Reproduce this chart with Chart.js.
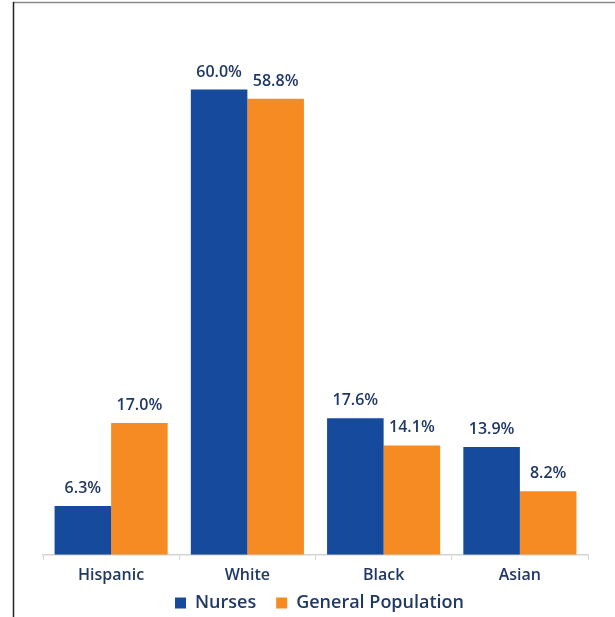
<!DOCTYPE html>
<html>
<head>
<meta charset="utf-8">
<script src="https://cdn.jsdelivr.net/npm/chart.js@4/dist/chart.umd.min.js"></script>
<style>
html,body{margin:0;padding:0;background:#fff;overflow:hidden;}
#wrap{position:absolute;left:0;top:0;width:615px;height:617px;overflow:hidden;}
</style>
</head>
<body>
<div id="wrap"><canvas id="c" width="615" height="639"></canvas></div>
<script>
const categories = ["Hispanic", "White", "Black", "Asian"];
const nurses = [6.3, 60.0, 17.6, 13.9];
const generalPopulation = [17.0, 58.8, 14.1, 8.2];
const seriesNames = ["Nurses", "General Population"];

const textColor = "#203864";
const blue = "#164A9C";
const orange = "#F68B23";

const framePlugin = {
  id: "frame",
  beforeDraw(chart) {
    const ctx = chart.ctx;
    ctx.save();
    ctx.fillStyle = "#fff";
    ctx.fillRect(0, 0, chart.width, chart.height);
    ctx.strokeStyle = "#8a8a8a";
    ctx.lineWidth = 1.5;
    ctx.beginPath();
    ctx.moveTo(13, 2.5);
    ctx.lineTo(chart.width, 2.5);
    ctx.stroke();
    ctx.strokeStyle = "#222";
    ctx.beginPath();
    ctx.moveTo(13.5, 2);
    ctx.lineTo(13.5, chart.height);
    ctx.stroke();
    ctx.restore();
  }
};

const legendShift = {
  id: "legendShift",
  afterLayout(chart) {
    if (chart.legend) {
      chart.legend.top -= 17;
      chart.legend.bottom -= 17;
      chart.legend.left += 4;
      chart.legend.right += 4;
    }
  }
};

const valueLabels = {
  id: "valueLabels",
  afterDatasetsDraw(chart) {
    const ctx = chart.ctx;
    ctx.save();
    ctx.font = "600 16px 'Open Sans'";
    ctx.fillStyle = textColor;
    ctx.textAlign = "center";
    ctx.textBaseline = "alphabetic";
    chart.data.datasets.forEach((ds, i) => {
      chart.getDatasetMeta(i).data.forEach((bar, j) => {
        ctx.fillText(ds.data[j].toFixed(1) + "%", bar.x, bar.y - 13);
      });
    });
    ctx.restore();
  }
};

new Chart(document.getElementById("c"), {
  type: "bar",
  data: {
    labels: categories,
    datasets: [
      { label: seriesNames[0], data: nurses, backgroundColor: blue },
      { label: seriesNames[1], data: generalPopulation, backgroundColor: orange }
    ]
  },
  options: {
    responsive: false,
    animation: false,
    devicePixelRatio: 1,
    layout: { padding: { left: 43, right: 27, top: 12, bottom: 0 } },
    datasets: { bar: { categoryPercentage: 0.83, barPercentage: 1 } },
    scales: {
      x: {
        grid: { display: true, drawOnChartArea: false, drawTicks: true, tickLength: 5, color: "#d4d4d4", offset: true },
        border: { display: true, color: "#d4d4d4", width: 1.5 },
        ticks: { color: textColor, font: { family: "'Open Sans'", size: 16, weight: 600 }, padding: 6 }
      },
      y: {
        display: false,
        min: 0,
        max: 70
      }
    },
    plugins: {
      legend: {
        position: "bottom",
        labels: {
          color: textColor,
          font: { family: "'Open Sans'", size: 18, weight: 600 },
          boxWidth: 11,
          boxHeight: 11,
          padding: 20
        }
      },
      tooltip: { enabled: false }
    }
  },
  plugins: [framePlugin, legendShift, valueLabels]
});
</script>
</body>
</html>
